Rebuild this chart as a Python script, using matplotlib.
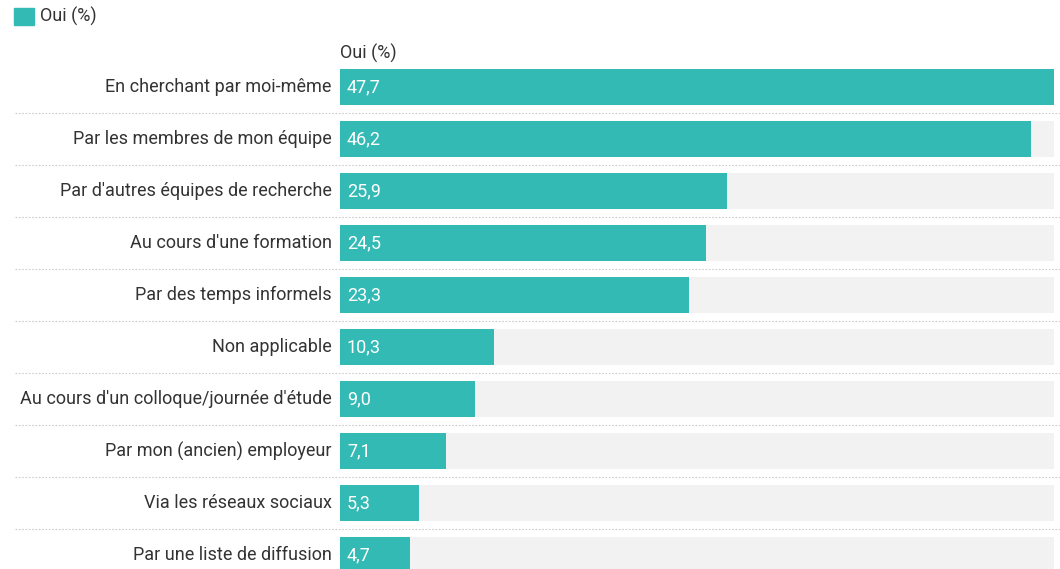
import matplotlib.pyplot as plt
from matplotlib.transforms import blended_transform_factory
from matplotlib.patches import Rectangle

categories = [
    "En cherchant par moi-même",
    "Par les membres de mon équipe",
    "Par d'autres équipes de recherche",
    "Au cours d'une formation",
    "Par des temps informels",
    "Non applicable",
    "Au cours d'un colloque/journée d'étude",
    "Par mon (ancien) employeur",
    "Via les réseaux sociaux",
    "Par une liste de diffusion",
]
oui = [47.7, 46.2, 25.9, 24.5, 23.3, 10.3, 9.0, 7.1, 5.3, 4.7]
series_name = "Oui (%)"

teal = "#34bab4"
track = "#f2f2f2"
text_col = "#333333"

plt.rcParams['font.family'] = ['Roboto', 'DejaVu Sans']

W, H = 1060, 569
fig = plt.figure(figsize=(W / 100, H / 100), dpi=100)

# axes in pixel coords: bars from x=340 to 1053.5, row 0 centre at y=87, pitch 52
x0, x1 = 340, 1053.5
top_px, bot_px = 61, 569
ax = fig.add_axes([x0 / W, 1 - bot_px / H, (x1 - x0) / W, (bot_px - top_px) / H])
vmax = max(oui)
ax.set_xlim(0, vmax)
ax.set_ylim((bot_px - 87) / 52, -0.5)
ax.axis('off')

bh = 36 / 52
ys = list(range(len(categories)))
ax.barh(ys, [vmax] * len(ys), height=bh, color=track, zorder=1)
ax.barh(ys, oui, height=bh, color=teal, zorder=2)

for y, v, c in zip(ys, oui, categories):
    ax.annotate(f"{v:.1f}".replace(".", ","), (0, y), xytext=(5, 0),
                textcoords='offset points', va='center', ha='left',
                color='white', fontsize=13, zorder=3)
    ax.annotate(c, (0, y), xytext=(-6, 0), textcoords='offset points',
                va='center', ha='right', color=text_col, fontsize=13,
                annotation_clip=False)

# dotted separators between rows
tr = blended_transform_factory(fig.transFigure, ax.transData)
for y in ys[:-1]:
    ax.plot([15 / W, 1.0], [y + 0.5, y + 0.5], transform=tr, clip_on=False,
            color='#cccccc', lw=0.8, ls=(0, (1.5, 1.5)), zorder=0)

# column header
fig.text(x0 / W, 1 - 53 / H, series_name, ha='left', va='center',
         color=text_col, fontsize=13)

# legend
fig.patches.append(Rectangle((14 / W, 1 - 25 / H), 20 / W, 17 / H,
                             transform=fig.transFigure, color=teal))
fig.text(40 / W, 1 - 16.5 / H, series_name, ha='left', va='center',
         color=text_col, fontsize=13)

fig.savefig("out.png", dpi=100)
